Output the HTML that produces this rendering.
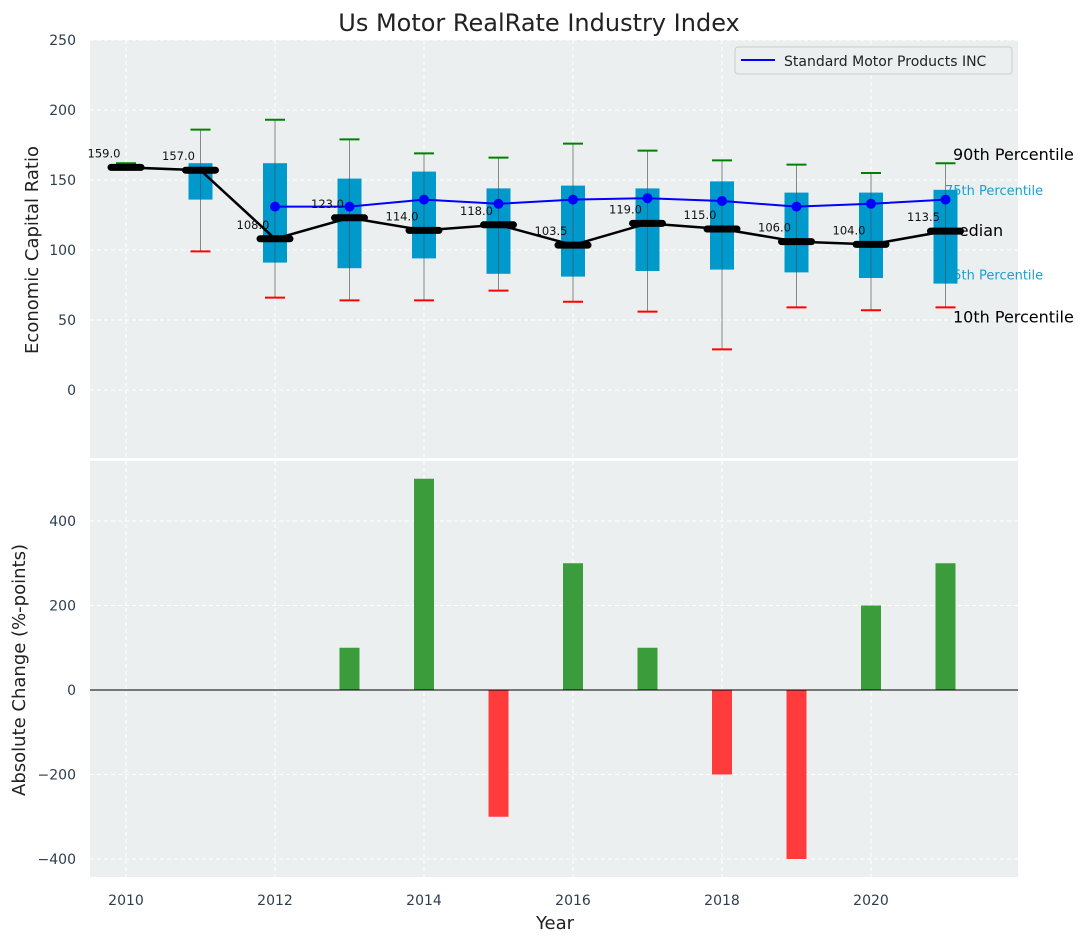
<!DOCTYPE html>
<html><head><meta charset="utf-8"><style>
body{margin:0;background:#fff;font-family:"Liberation Sans","DejaVu Sans",sans-serif;overflow:hidden}
svg text{font-family:"DejaVu Sans","Liberation Sans",sans-serif}
</style></head><body>
<svg id="chart" width="1088" height="942" xmlns="http://www.w3.org/2000/svg">
<defs><clipPath id="botclip"><rect x="90" y="461" width="928" height="416"/></clipPath></defs>
<text x="539" y="31" font-size="24" text-anchor="middle" fill="#222">Us Motor RealRate Industry Index</text>
<rect x="90" y="40" width="928" height="418" fill="#eceff0"/>
<rect x="90" y="461" width="928" height="416" fill="#eceff0"/>
<g id="grid"></g>
<g id="top"></g>
<g id="bottom" clip-path="url(#botclip)"></g>
<g id="axes"></g>
<text transform="translate(38,250) rotate(-90)" font-size="18" text-anchor="middle" fill="#222">Economic Capital Ratio</text>
<text transform="translate(25,670) rotate(-90)" font-size="18" text-anchor="middle" fill="#222">Absolute Change (%-points)</text>
<text x="555" y="929" font-size="18" text-anchor="middle" fill="#222">Year</text>
<g>
<rect x="735" y="47" width="277" height="27" rx="3" fill="#eceff0" stroke="#ccc"/>
<line x1="741" y1="60" x2="775" y2="60" stroke="#0000ff" stroke-width="2"/>
<text x="784" y="66" font-size="14" fill="#222">Standard Motor Products INC</text>
</g>
</svg>
<script>
const years=[2010,2011,2012,2013,2014,2015,2016,2017,2018,2019,2020,2021];
const p10=[159,99,66,64,64,71,63,56,29,59,57,59];
const p25=[159,136,91,87,94,83,81,85,86,84,80,76];
const median=[159,157,108,123,114,118,103.5,119,115,106,104,113.5];
const p75=[159,162,162,151,156,144,146,144,149,141,141,143];
const p90=[162,186,193,179,169,166,176,171,164,161,155,162];
const company=[null,null,131,131,136,133,136,137,135,131,133,136];
const change=[0,0,0,100,500,-300,300,100,-200,-400,200,300];
const topTicks=[0,50,100,150,200,250];
const botTicks=[-400,-200,0,200,400];
const xTicks=[2010,2012,2014,2016,2018,2020];

const NS="http://www.w3.org/2000/svg";
const X=y=>126+(y-2010)*74.5;
const YT=v=>390-v*1.4;
const YB=v=>690-v*0.4225;
function mk(parent,tag,attrs,text){const e=document.createElementNS(NS,tag);for(const k in attrs)e.setAttribute(k,attrs[k]);if(text!==undefined)e.textContent=text;document.getElementById(parent).appendChild(e);return e;}

xTicks.forEach(t=>{
  let g=mk('grid','line',{x1:X(t),x2:X(t),y1:40,y2:458,stroke:'#fff','stroke-dasharray':'4,3'});
  
  
  g=mk('grid','line',{x1:X(t),x2:X(t),y1:461,y2:877,stroke:'#fff','stroke-dasharray':'4,3'});
  
  
  const l=mk('axes','text',{x:X(t),y:905,'font-size':14,'text-anchor':'middle',fill:'#2d3e50'},String(t));
  
  
});
topTicks.forEach(t=>{
  const g=mk('grid','line',{x1:90,x2:1018,y1:YT(t),y2:YT(t),stroke:'#fff','stroke-dasharray':'4,3'});
  
  
  const l=mk('axes','text',{x:76,y:YT(t)+5,'font-size':14,'text-anchor':'end',fill:'#2d3e50'},String(t));
  
  
});
botTicks.forEach(t=>{
  const g=mk('grid','line',{x1:90,x2:1018,y1:YB(t),y2:YB(t),stroke:'#fff','stroke-dasharray':'4,3'});
  
  
  const l=mk('axes','text',{x:76,y:YB(t)+5,'font-size':14,'text-anchor':'end',fill:'#2d3e50'},(t<0?'\u2212':'')+Math.abs(t));
  
  
});

const last=years.length-1;
[[p90[last],'90th Percentile','#000',16,953,-3,'label-90th'],[p75[last],'75th Percentile','#1a9fd0',13,945,5,'label-75th'],[median[last],'Median','#000',16,945,5,'label-median'],[p25[last],'25th Percentile','#1a9fd0',13,945,-4,'label-25th'],[p10[last],'10th Percentile','#000',16,953,15,'label-10th']].forEach(a=>{
  const t=mk('top','text',{x:a[4],y:YT(a[0])+a[5],'font-size':a[3],fill:a[2]},a[1]);
  
  
});

years.forEach((y,i)=>{
  const x=X(y);
  const w=mk('top','line',{x1:x,x2:x,y1:YT(p90[i]),y2:YT(p10[i]),stroke:'#888','stroke-width':1});
  
  
  if(p75[i]>p25[i]){
    const b=mk('top','rect',{x:x-12,y:YT(p75[i]),width:24,height:YT(p25[i])-YT(p75[i]),fill:'#0099cc'});
    
    
    mk('top','line',{x1:x,x2:x,y1:YT(p75[i]),y2:YT(p25[i]),stroke:'#444','stroke-opacity':0.5});
  }
  const hi=mk('top','line',{x1:x-10,x2:x+10,y1:YT(p90[i]),y2:YT(p90[i]),stroke:'green','stroke-width':2});
  
  
  const lo=mk('top','line',{x1:x-10,x2:x+10,y1:YT(p10[i]),y2:YT(p10[i]),stroke:'red','stroke-width':2});
  
  
});
const cp=years.map((y,i)=>company[i]==null?null:[X(y),YT(company[i])]).filter(p=>p);
const cl=mk('top','polyline',{points:cp.map(p=>p.join(',')).join(' '),fill:'none',stroke:'#0000ff','stroke-width':2});


cp.forEach(p=>{
  const c=mk('top','circle',{cx:p[0],cy:p[1],r:5,fill:'#0000ff'});
  
  
});
const ml=mk('top','polyline',{points:years.map((y,i)=>X(y)+','+YT(median[i])).join(' '),fill:'none',stroke:'#000','stroke-width':2.5});


years.forEach((y,i)=>{
  const m=mk('top','line',{x1:X(y)-15,x2:X(y)+15,y1:YT(median[i]),y2:YT(median[i]),stroke:'#000','stroke-width':7,'stroke-linecap':'round'});
  
  
  const t=mk('top','text',{x:X(y)-22,y:YT(median[i])-10,'font-size':11.5,'text-anchor':'middle',fill:'#111'},median[i].toFixed(1));
  
  
});

years.forEach((y,i)=>{
  if(!change[i])return;
  const v=change[i];
  const b=mk('bottom','rect',{x:X(y)-10,y:Math.min(YB(0),YB(v)),width:20,height:Math.abs(YB(v)-YB(0)),fill:v>0?'#3a9c3a':'#ff3b3b'});
  
  
});
const z=mk('bottom','line',{x1:90,x2:1018,y1:YB(0),y2:YB(0),stroke:'#000','stroke-width':1});


</script>
</body></html>
